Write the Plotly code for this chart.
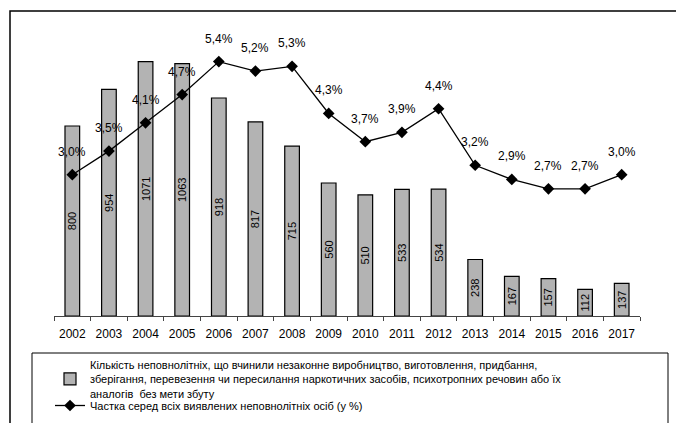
import plotly.graph_objects as go

years = ["2002", "2003", "2004", "2005", "2006", "2007", "2008", "2009",
         "2010", "2011", "2012", "2013", "2014", "2015", "2016", "2017"]
counts = [800, 954, 1071, 1063, 918, 817, 715, 560, 510, 533, 534, 238, 167, 157, 112, 137]
shares = [3.0, 3.5, 4.1, 4.7, 5.4, 5.2, 5.3, 4.3, 3.7, 3.9, 4.4, 3.2, 2.9, 2.7, 2.7, 3.0]

bar_name = ("Кількість неповнолітніх, що вчинили незаконне виробництво, виготовлення, придбання,<br>"
            "зберігання, перевезення чи пересилання наркотичних засобів, психотропних речовин або їх<br>"
            "аналогів  без мети збуту")
line_name = "Частка серед всіх виявлених неповнолітніх осіб (у %)"

FONT = "Liberation Sans, Arial, sans-serif"
W, H = 676, 423
ML, MR, MT, MB = 54, 36, 31, 107
PW, PH = W - ML - MR, H - MT - MB


def px_x(x):
    return (x - ML) / PW


def px_y(y):
    return (H - MB - y) / PH


fig = go.Figure()
fig.add_trace(go.Bar(
    x=years, y=counts, name=bar_name, legend="legend",
    marker=dict(color="#b3b3b3", line=dict(color="#000000", width=1.2)),
    width=0.4,
    text=[str(c) for c in counts],
    textposition="inside", textangle=-90, insidetextanchor="middle",
    constraintext="none",
    textfont=dict(family=FONT, size=11, color="#000000"),
))
fig.add_trace(go.Scatter(
    x=years, y=shares, name=line_name, yaxis="y2", legend="legend2",
    mode="lines+markers",
    line=dict(color="#000000", width=1.3),
    marker=dict(symbol="diamond", size=9, color="#000000"),
))

for i, s in enumerate(shares):
    fig.add_annotation(
        x=i, y=s, yref="y2", xref="x",
        text=f"{s:.1f}".replace(".", ",") + "%",
        showarrow=False, yshift=23,
        font=dict(family=FONT, size=12, color="#000000"),
    )

# outer frame
fig.add_shape(type="rect", xref="paper", yref="paper",
              x0=px_x(10), x1=px_x(690), y0=px_y(11), y1=px_y(440),
              line=dict(color="#000000", width=1.5), fillcolor="rgba(0,0,0,0)")
# legend frame
fig.add_shape(type="rect", xref="paper", yref="paper",
              x0=px_x(32), x1=px_x(668), y0=px_y(353), y1=px_y(440),
              line=dict(color="#000000", width=1), fillcolor="rgba(0,0,0,0)")

legend_common = dict(
    xanchor="left", yanchor="top",
    bgcolor="rgba(0,0,0,0)", borderwidth=0,
    font=dict(family=FONT, size=11, color="#000000"),
    tracegroupgap=0,
)

fig.update_layout(
    width=W, height=H,
    margin=dict(l=ML, r=MR, t=MT, b=MB, autoexpand=False),
    paper_bgcolor="white", plot_bgcolor="white",
    font=dict(family=FONT, size=12, color="#000000"),
    showlegend=True,
    legend=dict(x=px_x(50), y=px_y(351), **legend_common),
    legend2=dict(x=px_x(50), y=px_y(391), **legend_common),
    xaxis=dict(
        type="category", range=[-0.5, len(years) - 0.5],
        showline=True, linecolor="#444444", linewidth=1,
        ticks="outside", tickson="boundaries", ticklen=4, tickcolor="#444444",
        ticklabelstandoff=7,
        showgrid=False, zeroline=False, automargin=False,
        tickfont=dict(family=FONT, size=12, color="#000000"),
    ),
    yaxis=dict(range=[0, 1200], visible=False, showgrid=False),
    yaxis2=dict(range=[0, 6.05], visible=False, overlaying="y", side="right", showgrid=False),
)

fig.write_html("out.html")
